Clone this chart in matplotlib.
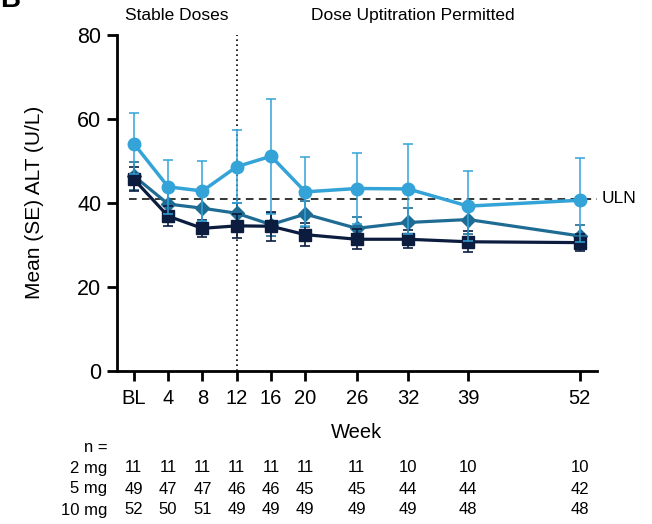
import matplotlib
matplotlib.use("Agg")
import matplotlib.pyplot as plt

plt.rcParams['font.family'] = ['Liberation Sans', 'DejaVu Sans']

# Study weeks and tick labels
weeks = [0, 4, 8, 12, 16, 20, 26, 32, 39, 52]
week_labels = ['BL', '4', '8', '12', '16', '20', '26', '32', '39', '52']

# Mean ALT (U/L) and standard error per dose group
alt_2mg = [54.1, 43.8, 42.8, 48.6, 51.1, 42.6, 43.4, 43.3, 39.2, 40.6]
se_2mg = [7.3, 6.4, 7.1, 8.7, 13.7, 8.2, 8.4, 10.7, 8.3, 10.0]
alt_5mg = [46.4, 39.7, 38.7, 37.5, 34.8, 37.3, 33.9, 35.3, 36.0, 32.1]
se_5mg = [3.4, 3.2, 3.1, 2.5, 2.8, 3.1, 2.8, 3.5, 3.5, 2.5]
alt_10mg = [45.6, 36.8, 33.9, 34.5, 34.4, 32.4, 31.3, 31.3, 30.7, 30.5]
se_10mg = [2.9, 2.4, 2.1, 2.9, 3.4, 2.7, 2.4, 2.2, 2.5, 2.1]

# Patients at each visit
n_2mg = [11, 11, 11, 11, 11, 11, 11, 10, 10, 10]
n_5mg = [49, 47, 47, 46, 46, 45, 45, 44, 44, 42]
n_10mg = [52, 50, 51, 49, 49, 49, 49, 49, 48, 48]

uln = 41
uptitration_week = 12

c2 = '#34a3d8'
c5 = '#1e6c94'
c10 = '#0b1c3e'

fig = plt.figure(figsize=(6.52, 5.24), dpi=100)
ax = fig.add_axes([0.179, 0.2929, 0.7362, 0.6403])

ax.axhline(uln, xmin=0.025, xmax=1.0, color='black', lw=1.1, ls=(0, (5, 3.5)), zorder=1)
ax.axvline(uptitration_week, color='black', lw=1.2, ls=(0, (1, 2)), zorder=1)

ax.errorbar(weeks, alt_5mg, yerr=se_5mg, color=c5, marker='D', ms=7.5,
            lw=2.3, elinewidth=1.2, capsize=3.5, capthick=1.2, zorder=3)
ax.errorbar(weeks, alt_10mg, yerr=se_10mg, color=c10, marker='s', ms=8,
            lw=2.3, elinewidth=1.2, capsize=3.5, capthick=1.2, zorder=4)
ax.errorbar(weeks, alt_2mg, yerr=se_2mg, color=c2, marker='o', ms=9,
            lw=2.5, elinewidth=1.1, capsize=3.5, capthick=1.1, zorder=5)

ax.set_xlim(-2, 54)
ax.set_ylim(0, 80)
ax.set_yticks([0, 20, 40, 60, 80])
ax.set_xticks(weeks)
ax.set_xticklabels(week_labels)

for side in ('top', 'right'):
    ax.spines[side].set_visible(False)
for side in ('left', 'bottom'):
    ax.spines[side].set_linewidth(2.0)
ax.tick_params(axis='both', width=2.0, length=7, direction='out', colors='black')
ax.tick_params(axis='y', labelsize=15.5, pad=4)
ax.tick_params(axis='x', labelsize=14.5, pad=6)
ax.spines['bottom'].set_bounds(-2, 54)

ax.set_ylabel('Mean (SE) ALT (U/L)', fontsize=15, labelpad=24)
ax.set_xlabel('Week', fontsize=14.5, labelpad=11)

ax.text(54.6, uln, 'ULN', fontsize=12.5, va='center', ha='left')

# Period labels above the plot
trans = ax.get_xaxis_transform()
ax.text(5, 1.035, 'Stable Doses', fontsize=12.5, ha='center', va='bottom', transform=trans)
ax.text(32.5, 1.035, 'Dose Uptitration Permitted', fontsize=12.5, ha='center', va='bottom',
        transform=trans)

# Number of patients table below the axis
fig.text(0.165, 1 - 447 / 524, 'n =', fontsize=12, ha='right', va='center')
rows = [('2 mg', n_2mg, 468), ('5 mg', n_5mg, 489), ('10 mg', n_10mg, 510)]
for label, counts, ypix in rows:
    yf = 1 - ypix / 524
    fig.text(0.165, yf, label, fontsize=12, ha='right', va='center')
    for wk, cnt in zip(weeks, counts):
        xdisp = ax.transData.transform((wk, 0))[0]
        xf = fig.transFigure.inverted().transform((xdisp, 0))[0]
        fig.text(xf, yf, str(cnt), fontsize=12, ha='center', va='center')

# Panel letter
fig.text(0.0, 1.0 + 0.025, 'B', fontsize=20, fontweight='bold', ha='left', va='top')

fig.savefig('out.png', dpi=100)
